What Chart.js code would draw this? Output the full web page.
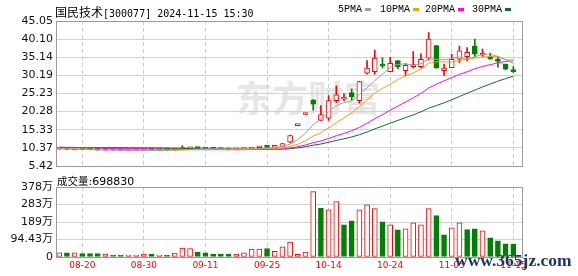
<!DOCTYPE html>
<html>
<head>
<meta charset="utf-8">
<script src="https://cdn.jsdelivr.net/npm/chart.js@4.4.1/dist/chart.umd.min.js"></script>
<style>
  html, body { margin: 0; padding: 0; background: #fff; }
  #wrap { position: relative; width: 578px; height: 276px; overflow: hidden; }
  #wrap canvas { position: absolute; left: 0; }
  .t { position: absolute; white-space: nowrap; line-height: 1; color: #000; }
  .mk { position: absolute; top: 8px; width: 6px; height: 3px; }
</style>
</head>
<body>
<div id="wrap">
  <div class="t" style="left:236px;top:70px;font:bold 36px 'Noto Sans CJK SC';color:#e6e6ea;">东方财富</div>
  <canvas id="kline" width="578" height="180" style="top:0"></canvas>
  <canvas id="vol" width="578" height="106" style="top:170px"></canvas>

  <div class="t" style="left:55px;top:3px;"><span style="font:12px 'Noto Sans CJK SC'">国民技术</span><span style="font:10px 'DejaVu Sans Mono'">[300077] 2024-11-15 15:30</span></div>

  <div class="t" style="left:338px;top:4px;font:10px 'Liberation Mono'">5PMA</div>
  <div class="mk" style="left:365px;background:#a0a0a0"></div>
  <div class="t" style="left:380px;top:4px;font:10px 'Liberation Mono'">10PMA</div>
  <div class="mk" style="left:413px;background:#f5a300"></div>
  <div class="t" style="left:425px;top:4px;font:10px 'Liberation Mono'">20PMA</div>
  <div class="mk" style="left:458px;background:#ff00ff"></div>
  <div class="t" style="left:472px;top:4px;font:10px 'Liberation Mono'">30PMA</div>
  <div class="mk" style="left:505px;background:#0b6e2f"></div>

  <div class="t" style="left:57px;top:172px;"><span style="font:10.5px 'Noto Sans CJK SC'">成交量</span><span style="font:11px 'DejaVu Sans'">:698830</span></div>

  <div class="t" style="left:455px;top:250px;font:bold 17.5px 'Liberation Serif';color:#1c3766;">www.365jz.com</div>
</div>

<script>
// trading days shown (MM-DD)
var dates = [
  '08-15','08-16','08-19','08-20','08-21','08-22','08-23','08-26','08-27','08-28',
  '08-29','08-30','09-02','09-03','09-04','09-05','09-06','09-09','09-10','09-11',
  '09-12','09-13','09-18','09-19','09-20','09-23','09-24','09-25','09-26','09-27',
  '09-30','10-08','10-09','10-10','10-11','10-14','10-15','10-16','10-17','10-18',
  '10-21','10-22','10-23','10-24','10-25','10-28','10-29','10-30','10-31','11-01',
  '11-04','11-05','11-06','11-07','11-08','11-11','11-12','11-13','11-14','11-15'
];
var dateTickIdx = [3, 11, 19, 27, 35, 43, 51, 59];

var openPx = [
  10.05,10.10,9.88,9.95,9.88,9.85,9.72,9.80,9.74,9.65,
  9.70,9.76,9.84,9.74,9.80,9.75,9.90,10.10,10.35,10.20,
  10.05,9.98,9.92,9.86,9.90,10.05,10.40,10.62,10.50,10.80,
  11.90,16.45,19.50,23.45,17.90,18.50,23.30,23.70,25.50,23.30,
  30.80,31.20,32.90,31.20,34.20,31.50,32.60,32.60,34.90,38.30,
  31.50,32.30,34.60,35.30,38.20,35.70,35.20,34.40,33.25,31.30
];
var highPx = [
  10.15,10.14,9.98,9.98,9.93,9.88,9.85,9.82,9.78,9.75,
  9.80,9.88,9.86,9.82,9.82,9.92,11.00,10.60,10.45,10.22,
  10.10,10.02,9.95,9.95,10.15,10.45,10.60,10.75,10.78,11.60,
  13.86,16.45,19.50,23.60,21.90,24.70,27.30,25.20,26.50,28.60,
  34.20,37.10,35.00,35.10,34.20,33.50,36.70,36.10,41.90,38.40,
  33.25,36.00,38.20,37.80,40.10,37.40,36.30,35.10,33.30,32.60
];
var lowPx = [
  10.00,9.90,9.82,9.85,9.82,9.70,9.70,9.70,9.60,9.62,
  9.68,9.74,9.70,9.72,9.70,9.74,9.88,10.05,10.15,10.00,
  9.92,9.85,9.80,9.84,9.88,10.02,10.35,10.45,10.48,10.75,
  11.80,16.45,19.50,20.70,17.90,17.90,22.80,23.30,23.40,22.60,
  30.50,30.50,32.20,31.20,32.00,30.10,32.20,32.30,34.40,32.10,
  30.15,32.30,33.70,34.20,35.30,35.30,34.60,32.40,31.70,31.00
];
var closePx = [
  10.12,9.92,9.95,9.88,9.85,9.72,9.80,9.74,9.65,9.70,
  9.76,9.84,9.74,9.80,9.75,9.90,10.10,10.35,10.20,10.05,
  9.98,9.92,9.86,9.90,10.05,10.40,10.55,10.50,10.70,11.55,
  13.75,16.45,19.50,22.30,19.45,23.30,24.90,23.90,24.30,28.50,
  32.20,34.90,32.70,33.50,32.60,32.90,33.10,34.60,40.10,32.20,
  32.20,34.60,36.90,36.50,36.00,35.85,34.60,34.00,31.90,31.20
];

// moving averages
var ma5 = [
  10.15,10.10,10.05,9.98,9.94,9.86,9.84,9.80,9.75,9.72,
  9.73,9.74,9.74,9.77,9.78,9.81,9.86,9.98,10.06,10.12,
  10.14,10.10,10.00,9.94,9.94,10.03,10.15,10.28,10.44,10.74,
  11.41,12.59,14.39,16.71,18.29,20.20,21.89,22.77,23.17,24.98,
  26.76,28.76,30.50,32.36,33.18,33.32,32.96,33.34,34.66,34.58,
  34.44,34.74,35.20,34.48,35.24,35.97,35.97,35.39,34.47,33.50
];
var ma10 = [
  10.15,10.12,10.08,10.05,10.00,9.96,9.93,9.90,9.86,9.83,
  9.80,9.79,9.77,9.76,9.75,9.77,9.80,9.86,9.91,9.95,
  9.97,9.98,9.99,10.00,10.03,10.08,10.13,10.14,10.19,10.34,
  10.72,11.37,12.34,13.58,14.52,15.81,17.24,18.58,19.94,21.64,
  23.48,25.33,26.65,27.77,29.08,30.04,30.86,31.93,33.51,33.88,
  33.88,33.85,34.27,34.57,34.91,35.21,35.36,35.30,34.48,34.38
];
var ma20 = [
  10.55,10.53,10.50,10.46,10.40,10.36,10.32,10.27,10.22,10.17,
  10.13,10.09,10.05,10.00,9.97,9.94,9.92,9.90,9.89,9.89,
  9.88,9.88,9.88,9.88,9.89,9.92,9.96,10.00,10.05,10.15,
  10.34,10.68,11.16,11.79,12.27,12.94,13.68,14.36,15.07,15.99,
  17.10,18.35,19.49,20.67,21.80,22.92,24.05,25.26,26.73,27.76,
  28.68,29.59,30.46,31.17,32.00,32.62,33.11,33.61,33.99,34.13
];
var ma30 = [
  10.45,10.45,10.44,10.44,10.43,10.43,10.42,10.42,10.41,10.40,
  10.39,10.38,10.37,10.35,10.32,10.28,10.24,10.20,10.16,10.12,
  10.09,10.06,10.04,10.02,10.01,10.00,10.00,10.00,10.01,10.04,
  10.16,10.38,10.70,11.11,11.43,11.89,12.39,12.86,13.35,13.98,
  14.72,15.56,16.32,17.11,17.88,18.64,19.41,20.22,21.21,21.95,
  22.69,23.52,24.42,25.30,26.17,27.02,27.82,28.60,29.31,29.96
];

// volume in 万 shares, and whether the bar is drawn as an up (red) bar
var volume = [
  22,23,22,18,18,18,16,11,11,11,
  11,16,16,11,11,21,48,45,27,22,
  16,16,16,16,22,43,43,45,30,55,
  80,15,27,353,262,255,299,174,195,255,
  282,261,190,174,147,152,185,174,261,223,
  119,157,185,148,152,141,103,87,71,69.883
];
var volUp = [
  1,0,1,0,0,0,1,0,0,1,
  1,1,0,1,0,1,1,1,0,0,
  0,0,0,1,1,1,1,0,1,1,
  1,1,1,1,0,1,1,0,0,1,
  1,1,0,1,0,1,1,1,1,0,
  0,1,1,0,0,1,0,0,0,0
];

var priceTicks = [5.42, 10.37, 15.33, 20.28, 25.23, 30.19, 35.14, 40.10, 45.05];
var priceTickLabels = ['5.42','10.37','15.33','20.28','25.23','30.19','35.14','40.10','45.05'];
var volTicks = [0, 94.43, 188.86, 283.29, 377.72];
var volTickLabels = ['0','94.43万','189万','283万','378万'];

var RED = '#ff0000', GREEN = '#008000';
var X_MIN = -0.42, X_MAX = 60.13;

var isUp = closePx.map(function (c, i) { return c >= openPx[i]; });

// grey frame round the plot area
var framePlugin = {
  id: 'frame',
  afterDraw: function (chart) {
    var a = chart.chartArea, ctx = chart.ctx;
    ctx.save();
    ctx.strokeStyle = '#9a9a9a';
    ctx.lineWidth = 1;
    ctx.strokeRect(Math.round(a.left) + 0.5, Math.round(a.top) + 0.5,
                   Math.round(a.right - a.left), Math.round(a.bottom - a.top));
    ctx.restore();
  }
};

function xScale(showLabels) {
  return {
    type: 'linear',
    min: X_MIN, max: X_MAX,
    offset: false,
    afterBuildTicks: function (s) { s.ticks = dateTickIdx.map(function (v) { return {value: v}; }); },
    afterFit: function (s) { s.height = showLabels ? 19 : 0; },
    grid: { color: '#cccccc', lineWidth: 1, drawTicks: false, offset: false },
    border: { display: false, dash: [4, 3] },
    ticks: {
      display: showLabels,
      autoSkip: false, maxRotation: 0, padding: 3,
      color: RED,
      font: { family: 'DejaVu Sans', size: 9 },
      callback: function (v) { return dates[v]; }
    }
  };
}

function lineSet(label, values, color) {
  return {
    type: 'line', label: label,
    data: values.map(function (v, i) { return {x: i, y: v}; }),
    borderColor: color, borderWidth: 1,
    pointRadius: 0, tension: 0, order: 0
  };
}

Chart.defaults.animation = false;

new Chart(document.getElementById('kline'), {
  type: 'bar',
  data: {
    datasets: [
      lineSet('MA5', ma5, '#a0a0a0'),
      lineSet('MA10', ma10, '#f5a300'),
      lineSet('MA20', ma20, '#ff00ff'),
      lineSet('MA30', ma30, '#0b6e2f'),
      {
        type: 'bar', label: 'body',
        data: openPx.map(function (o, i) { return {x: i, y: [o, closePx[i]]}; }),
        backgroundColor: isUp.map(function (u) { return u ? '#ffffff' : GREEN; }),
        borderColor: isUp.map(function (u) { return u ? RED : GREEN; }),
        borderWidth: 1, borderSkipped: false,
        barThickness: 5, minBarLength: 2, grouped: false, order: 1
      },
      {
        type: 'bar', label: 'wick',
        data: lowPx.map(function (l, i) { return {x: i, y: [l, highPx[i]]}; }),
        backgroundColor: isUp.map(function (u) { return u ? RED : GREEN; }),
        borderWidth: 0,
        barThickness: 1, minBarLength: 1, grouped: false, order: 2
      }
    ]
  },
  options: {
    responsive: false,
    devicePixelRatio: 1,
    events: [],
    layout: { padding: { top: 21, right: 56, bottom: 14, left: 0 } },
    plugins: { legend: { display: false }, tooltip: { enabled: false } },
    scales: {
      x: xScale(false),
      y: {
        type: 'linear',
        min: 5.42, max: 45.05,
        afterBuildTicks: function (s) { s.ticks = priceTicks.map(function (v) { return {value: v}; }); },
        afterFit: function (s) { s.width = 56; },
        grid: { color: '#d2d2d2', drawTicks: false },
        border: { display: false },
        ticks: {
          padding: 3, color: '#111',
          font: { family: 'DejaVu Sans', size: 11 },
          callback: function (v, i) { return priceTickLabels[i]; }
        }
      }
    }
  },
  plugins: [framePlugin]
});

new Chart(document.getElementById('vol'), {
  type: 'bar',
  data: {
    datasets: [{
      label: '成交量',
      data: volume.map(function (v, i) { return {x: i, y: v}; }),
      backgroundColor: volUp.map(function (u) { return u ? '#ffffff' : GREEN; }),
      borderColor: volUp.map(function (u) { return u ? RED : GREEN; }),
      borderWidth: 1, borderSkipped: false,
      barThickness: 5, minBarLength: 1
    }]
  },
  options: {
    responsive: false,
    devicePixelRatio: 1,
    events: [],
    layout: { padding: { top: 17, right: 56, bottom: 0, left: 0 } },
    plugins: { legend: { display: false }, tooltip: { enabled: false } },
    scales: {
      x: xScale(true),
      y: {
        type: 'linear',
        min: 0, max: 377.72,
        afterBuildTicks: function (s) { s.ticks = volTicks.map(function (v) { return {value: v}; }); },
        afterFit: function (s) { s.width = 56; },
        grid: { color: '#d2d2d2', drawTicks: false },
        border: { display: false },
        ticks: {
          padding: 3, color: '#111',
          font: { family: "'DejaVu Sans', 'Noto Sans CJK SC'", size: 11 },
          callback: function (v, i) { return volTickLabels[i]; }
        }
      }
    }
  },
  plugins: [framePlugin]
});
</script>
</body>
</html>
